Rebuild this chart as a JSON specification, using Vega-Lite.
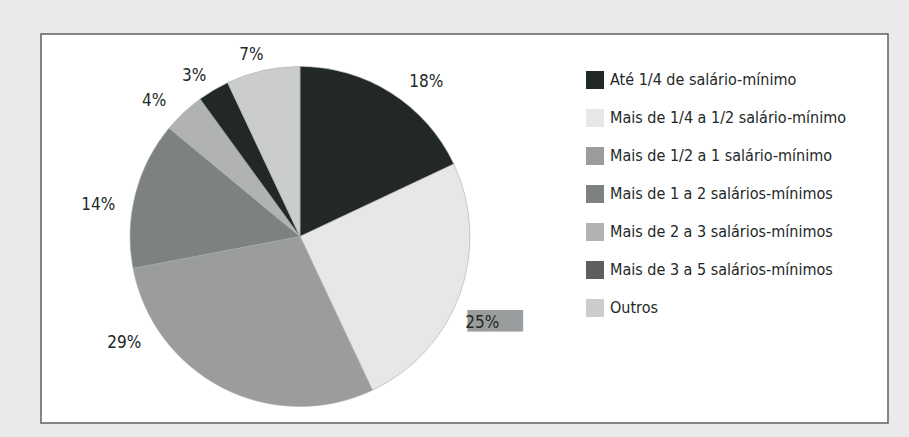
{
  "$schema": "https://vega.github.io/schema/vega-lite/v6.json",
  "width": 847,
  "height": 389,
  "padding": {"left": 41, "top": 34, "right": 21, "bottom": 14},
  "autosize": {"type": "none"},
  "background": "#e9eae9",
  "view": {"fill": "#ffffff", "stroke": "#5f6261", "strokeWidth": 1.5},
  "config": {
    "font": "Liberation Sans Narrow, Noto Sans Condensed, DejaVu Sans Condensed, Roboto Condensed, sans-serif"
  },
  "data": {
    "values": [
      {"ordem": 1, "faixa": "Até 1/4 de salário-mínimo", "pct": 18, "rotulo": "18%"},
      {"ordem": 2, "faixa": "Mais de 1/4 a 1/2 salário-mínimo", "pct": 25, "rotulo": "25%"},
      {"ordem": 3, "faixa": "Mais de 1/2 a 1 salário-mínimo", "pct": 29, "rotulo": "29%"},
      {"ordem": 4, "faixa": "Mais de 1 a 2 salários-mínimos", "pct": 14, "rotulo": "14%"},
      {"ordem": 5, "faixa": "Mais de 2 a 3 salários-mínimos", "pct": 4, "rotulo": "4%"},
      {"ordem": 6, "faixa": "Mais de 3 a 5 salários-mínimos", "pct": 3, "rotulo": "3%"},
      {"ordem": 7, "faixa": "Outros", "pct": 7, "rotulo": "7%"}
    ]
  },
  "encoding": {
    "theta": {"field": "pct", "type": "quantitative", "stack": true},
    "order": {"field": "ordem", "type": "quantitative"}
  },
  "layer": [
    {
      "mark": {"type": "arc", "outerRadius": 170, "x": {"expr": "width * 0.3058"}, "y": {"expr": "height * 0.5205"}, "stroke": "#a9acab", "strokeWidth": 0.6},
      "encoding": {
        "color": {
          "condition": {"test": "datum.faixa === 'Mais de 3 a 5 salários-mínimos'", "value": "#222826"},
          "field": "faixa",
          "type": "nominal",
          "sort": null,
          "scale": {
            "domain": ["Até 1/4 de salário-mínimo", "Mais de 1/4 a 1/2 salário-mínimo", "Mais de 1/2 a 1 salário-mínimo", "Mais de 1 a 2 salários-mínimos", "Mais de 2 a 3 salários-mínimos", "Mais de 3 a 5 salários-mínimos", "Outros"],
            "range": ["#222826", "#e6e7e6", "#9a9d9c", "#7d8180", "#b0b3b2", "#5c5f5e", "#cbcccd"]
          },
          "legend": {
            "title": null,
            "orient": "none",
            "legendX": 545,
            "legendY": 37,
            "symbolType": "square",
            "symbolSize": 324,
            "symbolStrokeWidth": 0,
            "symbolOpacity": 1,
            "labelFontSize": 16,
            "labelColor": "#222826",
            "labelOffset": 6,
            "labelLimit": 400,
            "rowPadding": 20
          }
        }
      }
    },
    {
      "mark": {"type": "text", "radius": 200, "dx": 7, "dy": 18, "x": {"expr": "width * 0.3058"}, "y": {"expr": "height * 0.5205"}, "fontSize": 18, "font": "DejaVu Sans", "color": "#9a9d9c", "align": "center", "baseline": "middle"},
      "encoding": {
        "text": {"condition": {"test": "datum.pct === 25", "value": "████"}, "value": ""}
      }
    },
    {
      "mark": {
        "type": "text", "radius": 200,
        "x": {"expr": "width * 0.3058"}, "y": {"expr": "height * 0.5205"},
        "dx": {"expr": "datum.ordem === 1 ? 19 : datum.ordem === 2 ? -6 : datum.ordem === 3 ? -85 : datum.ordem === 4 ? -8 : datum.ordem === 5 ? -9 : datum.ordem === 6 ? -4 : -5"},
        "dy": {"expr": "datum.ordem === 1 ? 14 : datum.ordem === 2 ? 19 : datum.ordem === 3 ? -72 : datum.ordem === 4 ? 18 : datum.ordem === 5 ? 10 : datum.ordem === 6 ? 12 : 14"},
        "fontSize": 17, "color": "#222826", "align": "center", "baseline": "middle"
      },
      "encoding": {
        "text": {"field": "rotulo", "type": "nominal"}
      }
    }
  ]
}
